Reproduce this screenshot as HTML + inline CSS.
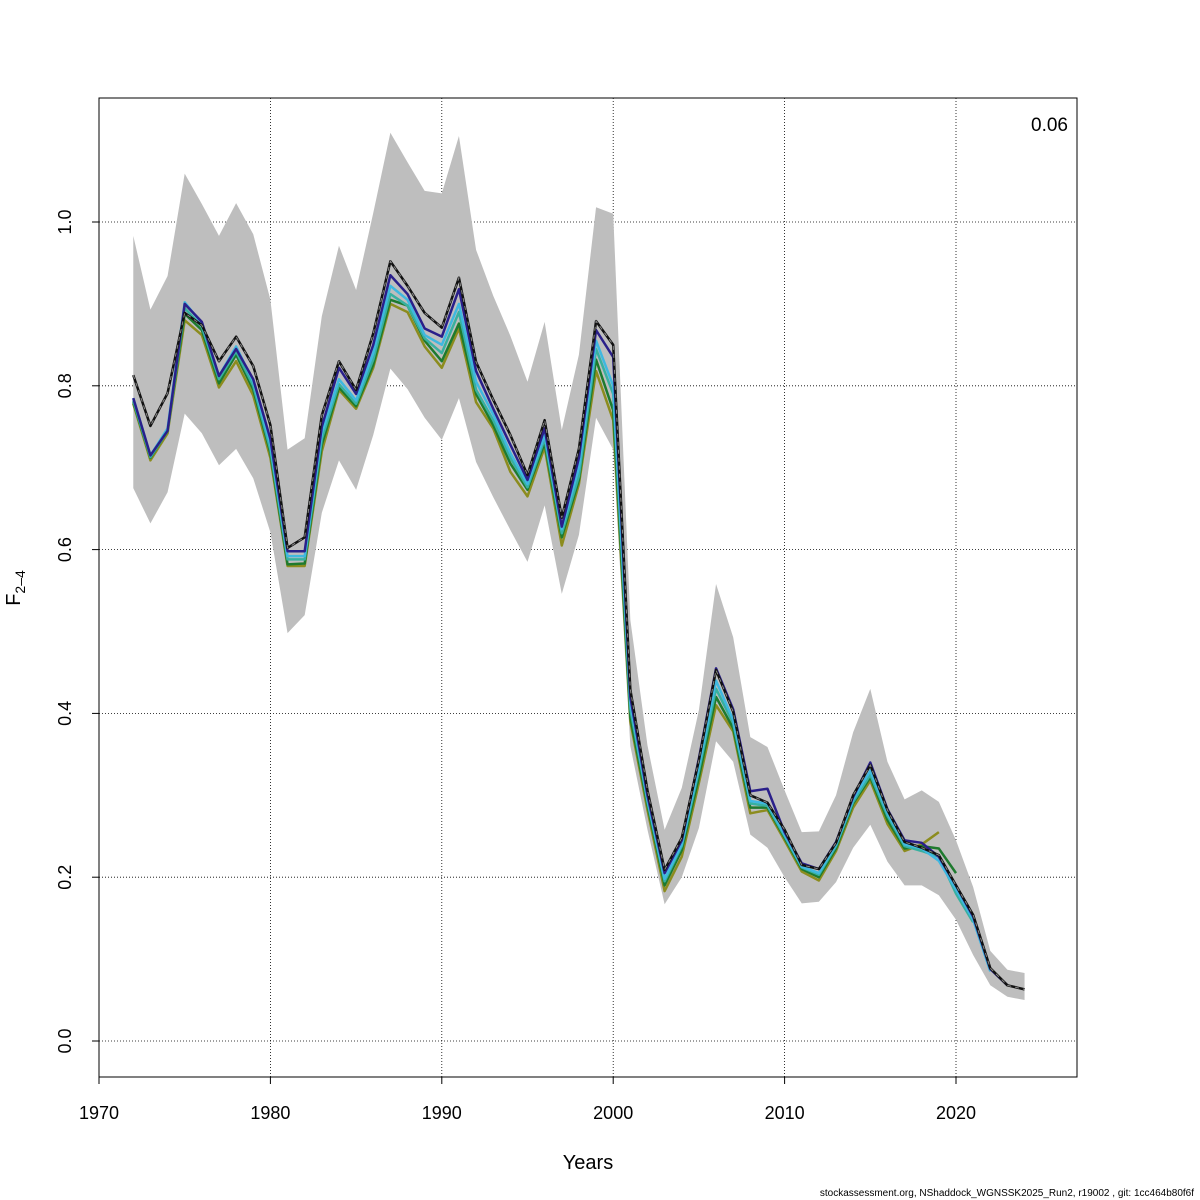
<!DOCTYPE html>
<html><head><meta charset="utf-8"><style>
body{margin:0;background:#fff}
svg{display:block;font-family:"Liberation Sans",sans-serif}
</style></head><body>
<svg id="chart" width="1200" height="1200" viewBox="0 0 1200 1200">
<g id="grid"></g>
<g id="band"></g>
<g id="lines"></g>
<rect x="99" y="98" width="978" height="979" fill="none" stroke="#000" stroke-width="1"/>
<g id="axes"></g>
<text x="1068" y="131" font-size="19" text-anchor="end">0.06</text>
<text x="588" y="1169" font-size="20" text-anchor="middle">Years</text>
<text transform="translate(20,588) rotate(-90)" font-size="20" text-anchor="middle">F<tspan font-size="14" dy="5">2–4</tspan></text>
<text x="1194" y="1196" font-size="10" text-anchor="end">stockassessment.org, NShaddock_WGNSSK2025_Run2, r19002 , git: 1cc464b80f6f</text>
</svg>
<script>
const startYear = 1972;
const upper = [.983,.893,.934,1.059,1.022,.983,1.023,.985,.905,.722,.736,.885,.971,.917,1.011,1.109,1.073,1.038,1.035,1.105,.966,.910,.861,.805,.878,.746,.838,1.018,1.010,.514,.361,.258,.309,.404,.558,.493,.371,.359,.306,.255,.256,.300,.377,.430,.341,.295,.306,.292,.245,.188,.110,.087,.083];
const lower = [.675,.632,.670,.766,.742,.703,.723,.687,.621,.498,.520,.645,.709,.673,.740,.821,.796,.761,.734,.785,.707,.664,.624,.585,.654,.546,.618,.761,.722,.360,.258,.167,.200,.260,.366,.341,.252,.236,.200,.168,.170,.194,.236,.264,.219,.190,.190,.178,.148,.105,.068,.054,.050];
const olive = [.778,.709,.742,.880,.862,.798,.830,.788,.712,.580,.580,.720,.795,.772,.822,.900,.890,.848,.822,.870,.780,.748,.695,.665,.725,.605,.680,.818,.758,.390,.282,.183,.225,.315,.410,.378,.278,.282,.245,.207,.196,.232,.285,.318,.265,.232,.240,.255];
const green = [.780,.712,.745,.888,.868,.803,.838,.795,.718,.582,.583,.728,.798,.775,.826,.905,.898,.855,.830,.876,.790,.752,.705,.673,.730,.615,.685,.832,.770,.395,.288,.190,.233,.322,.420,.382,.285,.285,.248,.210,.200,.235,.290,.322,.270,.235,.238,.235,.205];
const teal = [.782,.713,.745,.895,.872,.808,.842,.800,.722,.588,.588,.735,.802,.778,.832,.912,.898,.858,.840,.890,.795,.758,.712,.676,.735,.620,.690,.845,.790,.405,.292,.195,.238,.330,.430,.388,.290,.287,.250,.212,.203,.238,.292,.325,.275,.238,.232,.225,.180,.145];
const cyan = [.785,.715,.748,.902,.876,.812,.848,.805,.728,.592,.592,.742,.808,.782,.840,.922,.905,.862,.850,.900,.805,.765,.718,.680,.740,.625,.700,.855,.800,.412,.295,.198,.240,.335,.440,.392,.293,.290,.252,.213,.205,.240,.295,.330,.278,.240,.235,.220,.185,.148,.085];
const navy = [.785,.715,.745,.900,.878,.812,.845,.808,.735,.598,.598,.750,.822,.790,.850,.935,.912,.870,.860,.918,.818,.772,.728,.685,.748,.628,.712,.868,.835,.420,.300,.205,.245,.345,.455,.405,.305,.308,.255,.217,.210,.243,.298,.340,.283,.245,.242,.225,.190,.152,.088,.068];
const black = [.813,.751,.791,.889,.874,.830,.860,.824,.752,.602,.615,.764,.830,.795,.864,.952,.922,.889,.871,.932,.829,.783,.740,.691,.758,.639,.723,.879,.850,.429,.306,.209,.248,.343,.453,.402,.300,.291,.258,.215,.210,.242,.300,.337,.282,.243,.236,.227,.190,.154,.089,.068,.063];
const xTicks = [1970,1980,1990,2000,2010,2020];
const yTicks = [0.0,0.2,0.4,0.6,0.8,1.0];

const NS="http://www.w3.org/2000/svg";
const xs = y => 99 + (y-1970)*(956-99)/50;
const ys = v => 1041 - v*819;
function mk(tag, attrs, parent){const e=document.createElementNS(NS,tag);for(const k in attrs)e.setAttribute(k,attrs[k]);parent.appendChild(e);return e;}
const grid=document.getElementById('grid'), axes=document.getElementById('axes');
xTicks.forEach(t=>{
  const g=mk('line',{x1:xs(t),x2:xs(t),y1:98,y2:1077,stroke:'#000','stroke-width':0.8,'stroke-dasharray':'1,2'},grid);
  
  
  const tk=mk('line',{x1:xs(t),x2:xs(t),y1:1077,y2:1084,stroke:'#000'},axes);
  
  
  const tx=mk('text',{x:xs(t),y:1119,'font-size':18,'text-anchor':'middle'},axes);
  tx.textContent=t;
  
  
});
yTicks.forEach(t=>{
  const g=mk('line',{x1:99,x2:1077,y1:ys(t),y2:ys(t),stroke:'#000','stroke-width':0.8,'stroke-dasharray':'1,2'},grid);
  
  
  const tk=mk('line',{x1:92,x2:99,y1:ys(t),y2:ys(t),stroke:'#000'},axes);
  
  
  const tx=mk('text',{transform:`translate(71,${ys(t)}) rotate(-90)`,'font-size':18,'text-anchor':'middle'},axes);
  tx.textContent=t.toFixed(1);
  
  
});
// band
let d='';
upper.forEach((v,i)=>{d+=(i?'L':'M')+xs(startYear+i)+','+ys(v);});
for(let i=lower.length-1;i>=0;i--)d+='L'+xs(startYear+i)+','+ys(lower[i]);
const band=mk('path',{d:d+'Z',fill:'#bebebe',stroke:'none'},document.getElementById('band'));


const series=[[olive,'#8c8c1e','olive'],[green,'#1e7a2e','green'],[teal,'#38b0a0','teal'],[cyan,'#3fb8e0','cyan'],[navy,'#2a1f8a','navy'],[black,'#111','black']];
const lg=document.getElementById('lines');
series.forEach(([arr,col,nm])=>{
  const p=arr.map((v,i)=>(i?'L':'M')+xs(startYear+i)+','+ys(v)).join('');
  const l=mk('path',{d:p,fill:'none',stroke:col,'stroke-width':2.5,'stroke-linejoin':'round'},lg);
  
  
  if(nm==='black'){
    const o=mk('path',{d:p,fill:'none',stroke:'#888','stroke-width':1,'stroke-dasharray':'4,4'},lg);
    
    
  }
});
</script>
</body></html>
